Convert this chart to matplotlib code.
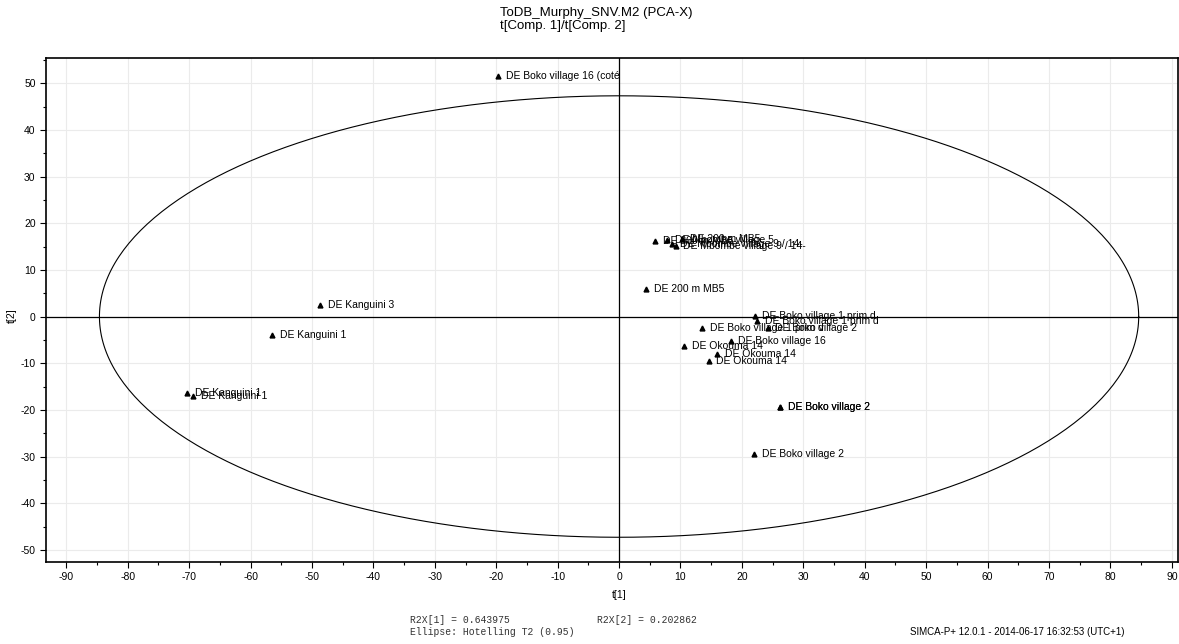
import numpy as np
import matplotlib
matplotlib.use("Agg")
import matplotlib.pyplot as plt
from matplotlib.ticker import MultipleLocator

plt.rcParams['font.family'] = ['Liberation Sans', 'DejaVu Sans']
plt.rcParams['axes.unicode_minus'] = False

# ---- data ----
labels = [
    "DE Boko village 16 (coté",
    "DE Kanguini 3",
    "DE Kanguini 1",
    "DE Kanguini 1",
    "DE Kanguini 1",
    "DE 200 m MB5",
    "DE 200 m MB5",
    "DE Mbombe village 9 / 14-",
    "DE 200 m MB5",
    "DE Mbombe village 9 / 14-",
    "DE Mbombe village 5",
    "DE Boko village 1 prim d",
    "DE Boko village 1 prim d",
    "DE Boko village 1 prim d",
    "DE Boko village 2",
    "DE Boko village 16",
    "DE Okouma 14",
    "DE Okouma 14",
    "DE Okouma 14",
    "DE Boko village 2",
    "DE Boko village 2",
    "DE Boko village 2",
]
t1 = [-19.7, -48.7, -56.5, -70.3, -69.3, 4.4, 5.9, 8.6, 10.3, 9.2, 7.8,
      22.1, 22.5, 13.5, 24.2, 18.2, 10.6, 16.0, 14.6, 26.2, 26.2, 22.0]
t2 = [51.5, 2.5, -4.0, -16.4, -17.1, 5.9, 16.1, 15.6, 16.7, 15.2, 16.3,
      0.1, -1.0, -2.5, -2.5, -5.2, -6.3, -8.0, -9.5, -19.4, -19.4, -29.4]

ellipse_a = 84.6
ellipse_b = 47.3
xticks = list(range(-90, 91, 10))
yticks = list(range(-50, 51, 10))

title_line1 = "ToDB_Murphy_SNV.M2 (PCA-X)"
title_line2 = "t[Comp. 1]/t[Comp. 2]"
r2x1 = "R2X[1] = 0.643975"
r2x2 = "R2X[2] = 0.202862"
ellipse_txt = "Ellipse: Hotelling T2 (0.95)"
footer = "SIMCA-P+ 12.0.1 - 2014-06-17 16:32:53 (UTC+1)"

# ---- figure ----
fig = plt.figure(figsize=(11.79, 6.44), dpi=100)
ax = fig.add_axes([46/1179, (644-562)/644, (1178-46)/1179, (562-58)/644])

ax.set_xlim(-93.3, 91.0)
ax.set_ylim(-52.6, 55.4)

ax.set_xticks(xticks)
ax.set_yticks(yticks)
ax.xaxis.set_minor_locator(MultipleLocator(5))
ax.yaxis.set_minor_locator(MultipleLocator(5))
ax.tick_params(which='major', direction='out', length=4, width=0.8, labelsize=7.5, colors='black')
ax.tick_params(which='minor', direction='out', length=2.5, width=0.8)
ax.grid(True, which='major', color='#ebebeb', linewidth=0.8)
ax.set_axisbelow(True)
for s in ax.spines.values():
    s.set_linewidth(1.2)
    s.set_color('black')

ax.axhline(0, color='black', linewidth=0.9, zorder=2)
ax.axvline(0, color='black', linewidth=0.9, zorder=2)

th = np.linspace(0, 2*np.pi, 400)
ax.plot(ellipse_a*np.cos(th), ellipse_b*np.sin(th), color='black', linewidth=0.8, zorder=3)

ax.plot(t1, t2, linestyle='none', marker='^', markersize=3.5, color='black', zorder=4)
for x, y, lab in zip(t1, t2, labels):
    ax.annotate(lab, (x, y), xytext=(5.5, 0), textcoords='offset points',
                fontsize=7.5, va='center', ha='left', color='black', zorder=5)

ax.set_xlabel("t[1]", fontsize=7.5)
ax.set_ylabel("t[2]", fontsize=7.5)
ax.xaxis.set_label_coords(0.5 + (619 - 612) / 1132, -(590 - 562) / 504)
ax.yaxis.set_label_coords(-(46 - 17) / 1132, (562 - 316) / 504)

fig.text(500/1179, 1-7/644, title_line1, fontsize=9.5, ha='left', va='top')
fig.text(500/1179, 1-20/644, title_line2, fontsize=9.5, ha='left', va='top')

fig.text(410/1179, 1-620/644, r2x1, fontsize=7, family='Liberation Mono', ha='left', va='center', color='#333333')
fig.text(597/1179, 1-620/644, r2x2, fontsize=7, family='Liberation Mono', ha='left', va='center', color='#333333')
fig.text(410/1179, 1-632/644, ellipse_txt, fontsize=7, family='Liberation Mono', ha='left', va='center', color='#333333')
fig.text(910/1179, 1-632/644, footer, fontsize=7, ha='left', va='center')

fig.savefig("out.png", dpi=100)
